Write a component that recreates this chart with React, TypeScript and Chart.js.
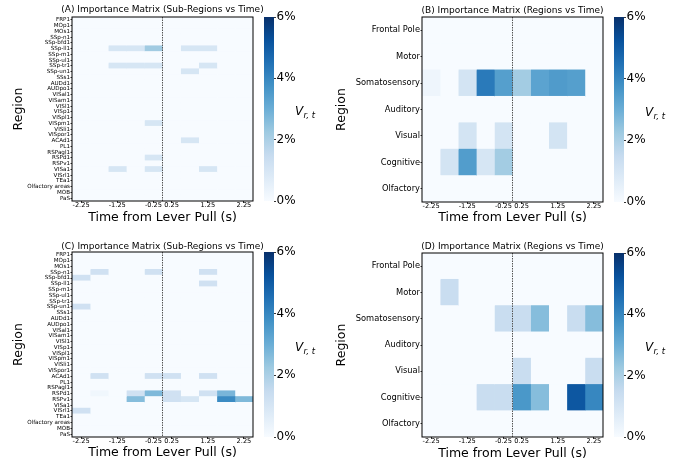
import React, { useEffect, useRef } from "react";
import { Chart, registerables } from "chart.js";

Chart.register(...registerables);

// ---------- data ----------
const timeBinStarts = [-2.5, -2, -1.5, -1, -0.5, 0, 0.5, 1, 1.5, 2];
const binWidth = 0.5;
const timeTicks = [-2.25, -1.25, -0.25, 0.25, 1.25, 2.25];
const colorbarTicks = [0, 2, 4, 6];
const vmax = 6;

const subRegions = [
  "FRP1", "MOp1", "MOs1", "SSp-n1", "SSp-bfd1", "SSp-ll1", "SSp-m1", "SSp-ul1",
  "SSp-tr1", "SSp-un1", "SSs1", "AUDd1", "AUDpo1", "VISal1", "VISam1", "VISl1",
  "VISp1", "VISpl1", "VISpm1", "VISli1", "VISpor1", "ACAd1", "PL1", "RSPagl1",
  "RSPd1", "RSPv1", "VISa1", "VISrl1", "TEa1", "Olfactory areas", "MOB", "PaS",
];

const regions = ["Frontal Pole", "Motor", "Somatosensory", "Auditory", "Visual", "Cognitive", "Olfactory"];

// values in % (rows = regions, columns = time bins)
const importanceA = [
  [0, 0, 0, 0, 0, 0, 0, 0, 0, 0], // FRP1
  [0, 0, 0, 0, 0, 0, 0, 0, 0, 0], // MOp1
  [0, 0, 0, 0, 0, 0, 0, 0, 0, 0], // MOs1
  [0, 0, 0, 0, 0, 0, 0, 0, 0, 0], // SSp-n1
  [0, 0, 0, 0, 0, 0, 0, 0, 0, 0], // SSp-bfd1
  [0, 0, 1.0, 1.0, 2.2, 0, 1.0, 1.0, 0, 0], // SSp-ll1
  [0, 0, 0, 0, 0, 0, 0, 0, 0, 0], // SSp-m1
  [0, 0, 0, 0, 0, 0, 0, 0, 0, 0], // SSp-ul1
  [0, 0, 1.0, 1.0, 1.0, 0, 0, 1.0, 0, 0], // SSp-tr1
  [0, 0, 0, 0, 0, 0, 1.0, 0, 0, 0], // SSp-un1
  [0, 0, 0, 0, 0, 0, 0, 0, 0, 0], // SSs1
  [0, 0, 0, 0, 0, 0, 0, 0, 0, 0], // AUDd1
  [0, 0, 0, 0, 0, 0, 0, 0, 0, 0], // AUDpo1
  [0, 0, 0, 0, 0, 0, 0, 0, 0, 0], // VISal1
  [0, 0, 0, 0, 0, 0, 0, 0, 0, 0], // VISam1
  [0, 0, 0, 0, 0, 0, 0, 0, 0, 0], // VISl1
  [0, 0, 0, 0, 0, 0, 0, 0, 0, 0], // VISp1
  [0, 0, 0, 0, 0, 0, 0, 0, 0, 0], // VISpl1
  [0, 0, 0, 0, 1.0, 0, 0, 0, 0, 0], // VISpm1
  [0, 0, 0, 0, 0, 0, 0, 0, 0, 0], // VISli1
  [0, 0, 0, 0, 0, 0, 0, 0, 0, 0], // VISpor1
  [0, 0, 0, 0, 0, 0, 1.0, 0, 0, 0], // ACAd1
  [0, 0, 0, 0, 0, 0, 0, 0, 0, 0], // PL1
  [0, 0, 0, 0, 0, 0, 0, 0, 0, 0], // RSPagl1
  [0, 0, 0, 0, 1.0, 0, 0, 0, 0, 0], // RSPd1
  [0, 0, 0, 0, 0, 0, 0, 0, 0, 0], // RSPv1
  [0, 0, 1.0, 0, 1.0, 0, 0, 1.0, 0, 0], // VISa1
  [0, 0, 0, 0, 0, 0, 0, 0, 0, 0], // VISrl1
  [0, 0, 0, 0, 0, 0, 0, 0, 0, 0], // TEa1
  [0, 0, 0, 0, 0, 0, 0, 0, 0, 0], // Olfactory areas
  [0, 0, 0, 0, 0, 0, 0, 0, 0, 0], // MOB
  [0, 0, 0, 0, 0, 0, 0, 0, 0, 0], // PaS
];

const importanceB = [
  [0, 0, 0, 0, 0, 0, 0, 0, 0, 0], // Frontal Pole
  [0, 0, 0, 0, 0, 0, 0, 0, 0, 0], // Motor
  [0.27, 0, 1.1, 4.3, 3.4, 2.15, 3.3, 3.5, 3.4, 0], // Somatosensory
  [0, 0, 0, 0, 0, 0, 0, 0, 0, 0], // Auditory
  [0, 0, 1.1, 0, 1.1, 0, 0, 1.1, 0, 0], // Visual
  [0, 1.1, 3.45, 1.0, 2.15, 0, 0, 0, 0, 0], // Cognitive
  [0, 0, 0, 0, 0, 0, 0, 0, 0, 0], // Olfactory
];

const importanceC = [
  [0, 0, 0, 0, 0, 0, 0, 0, 0, 0], // FRP1
  [0, 0, 0, 0, 0, 0, 0, 0, 0, 0], // MOp1
  [0, 0, 0, 0, 0, 0, 0, 0, 0, 0], // MOs1
  [0, 1.2, 0, 0, 1.2, 0, 0, 1.2, 0, 0], // SSp-n1
  [1.2, 0, 0, 0, 0, 0, 0, 0, 0, 0], // SSp-bfd1
  [0, 0, 0, 0, 0, 0, 0, 1.2, 0, 0], // SSp-ll1
  [0, 0, 0, 0, 0, 0, 0, 0, 0, 0], // SSp-m1
  [0, 0, 0, 0, 0, 0, 0, 0, 0, 0], // SSp-ul1
  [0, 0, 0, 0, 0, 0, 0, 0, 0, 0], // SSp-tr1
  [1.2, 0, 0, 0, 0, 0, 0, 0, 0, 0], // SSp-un1
  [0, 0, 0, 0, 0, 0, 0, 0, 0, 0], // SSs1
  [0, 0, 0, 0, 0, 0, 0, 0, 0, 0], // AUDd1
  [0, 0, 0, 0, 0, 0, 0, 0, 0, 0], // AUDpo1
  [0, 0, 0, 0, 0, 0, 0, 0, 0, 0], // VISal1
  [0, 0, 0, 0, 0, 0, 0, 0, 0, 0], // VISam1
  [0, 0, 0, 0, 0, 0, 0, 0, 0, 0], // VISl1
  [0, 0, 0, 0, 0, 0, 0, 0, 0, 0], // VISp1
  [0, 0, 0, 0, 0, 0, 0, 0, 0, 0], // VISpl1
  [0, 0, 0, 0, 0, 0, 0, 0, 0, 0], // VISpm1
  [0, 0, 0, 0, 0, 0, 0, 0, 0, 0], // VISli1
  [0, 0, 0, 0, 0, 0, 0, 0, 0, 0], // VISpor1
  [0, 1.2, 0, 0, 1.2, 1.2, 0, 1.2, 0, 0], // ACAd1
  [0, 0, 0, 0, 0, 0, 0, 0, 0, 0], // PL1
  [0, 0, 0, 0, 0, 0, 0, 0, 0, 0], // RSPagl1
  [0, 0.2, 0, 1.2, 2.7, 1.2, 0, 1.2, 2.8, 0], // RSPd1
  [0, 0, 0, 2.6, 0, 1.2, 1.0, 0, 3.9, 2.7], // RSPv1
  [0, 0, 0, 0, 0, 0, 0, 0, 0, 0], // VISa1
  [1.2, 0, 0, 0, 0, 0, 0, 0, 0, 0], // VISrl1
  [0, 0, 0, 0, 0, 0, 0, 0, 0, 0], // TEa1
  [0, 0, 0, 0, 0, 0, 0, 0, 0, 0], // Olfactory areas
  [0, 0, 0, 0, 0, 0, 0, 0, 0, 0], // MOB
  [0, 0, 0, 0, 0, 0, 0, 0, 0, 0], // PaS
];

const importanceD = [
  [0, 0, 0, 0, 0, 0, 0, 0, 0, 0], // Frontal Pole
  [0, 1.4, 0, 0, 0, 0, 0, 0, 0, 0], // Motor
  [0, 0, 0, 0, 1.4, 1.4, 2.6, 0, 1.4, 2.6], // Somatosensory
  [0, 0, 0, 0, 0, 0, 0, 0, 0, 0], // Auditory
  [0, 0, 0, 0, 0, 1.4, 0, 0, 0, 1.4], // Visual
  [0, 0, 0, 1.4, 1.4, 3.6, 2.6, 0, 5.1, 4.0], // Cognitive
  [0, 0, 0, 0, 0, 0, 0, 0, 0, 0], // Olfactory
];

// ---------- colormap (matplotlib "Blues") ----------
const bluesStops = ["#f7fbff", "#deebf7", "#c6dbef", "#9ecae1", "#6baed6", "#4292c6", "#2171b5", "#08519c", "#08306b"];

function hexToRgb(h: string) {
  return [parseInt(h.slice(1, 3), 16), parseInt(h.slice(3, 5), 16), parseInt(h.slice(5, 7), 16)];
}
function blues(t: number) {
  const x = Math.max(0, Math.min(1, t)) * (bluesStops.length - 1);
  const i = Math.min(Math.floor(x), bluesStops.length - 2);
  const f = x - i;
  const a = hexToRgb(bluesStops[i]);
  const b = hexToRgb(bluesStops[i + 1]);
  const c = a.map((v, k) => Math.round(v + (b[k] - v) * f));
  return `rgb(${c[0]},${c[1]},${c[2]})`;
}

const FONT = "DejaVu Sans";

// ---------- plugins ----------
const framePlugin = {
  id: "frame",
  afterDatasetsDraw(chart: any, _args: any, opts: any) {
    const { ctx, chartArea, scales } = chart;
    const x0 = scales.x.getPixelForValue(0);
    ctx.save();
    ctx.strokeStyle = "#555";
    ctx.lineWidth = 1;
    ctx.setLineDash([1.5, 1]);
    ctx.beginPath();
    ctx.moveTo(x0, chartArea.top);
    ctx.lineTo(x0, chartArea.bottom);
    ctx.stroke();
    ctx.setLineDash([]);
    ctx.strokeStyle = "#000";
    ctx.lineWidth = 1;
    ctx.strokeRect(chartArea.left, chartArea.top, chartArea.right - chartArea.left, chartArea.bottom - chartArea.top);
    // panel title, centred over the plot area
    ctx.fillStyle = "#000";
    ctx.font = `9px "${FONT}"`;
    ctx.textAlign = "center";
    ctx.textBaseline = "middle";
    ctx.fillText(opts.text, (chartArea.left + chartArea.right) / 2, opts.y);
    ctx.restore();
  },
};

const cbLabelPlugin = {
  id: "cbLabel",
  afterDraw(chart: any) {
    const { ctx, chartArea } = chart;
    const cy = (chartArea.top + chartArea.bottom) / 2;
    const x = chartArea.right + 21;
    ctx.save();
    ctx.fillStyle = "#000";
    ctx.textBaseline = "alphabetic";
    ctx.textAlign = "left";
    ctx.font = `italic 12px "${FONT}"`;
    ctx.fillText("V", x, cy + 6);
    const w = ctx.measureText("V").width;
    ctx.font = `italic 8.5px "${FONT}"`;
    ctx.fillText("r, t", x + w + 0.3, cy + 9);
    ctx.restore();
  },
};

type PanelCfg = {
  key: string;
  title: string;
  labels: string[];
  matrix: number[][];
  left: number;
  top: number;
  width: number;
  height: number;
  yAxisW: number;
  padRight: number;
  areaTop: number;
  areaBottom: number;
  titleCenter: number;
  yLabelFont: number;
  regionOffset: number;
  xTitleOffset: number;
  cbLeft: number;
  cbWidth: number;
};

const panels: PanelCfg[] = [
  {
    key: "A", title: "(A) Importance Matrix (Sub-Regions vs Time)", labels: subRegions, matrix: importanceA,
    left: 0, top: 0, width: 273, height: 232, yAxisW: 72, padRight: 20, areaTop: 17, areaBottom: 201,
    titleCenter: 10, yLabelFont: 5.6, regionOffset: 19, xTitleOffset: 14, cbLeft: 256, cbWidth: 74,
  },
  {
    key: "B", title: "(B) Importance Matrix (Regions vs Time)", labels: regions, matrix: importanceB,
    left: 330, top: 0, width: 293, height: 232, yAxisW: 92, padRight: 20, areaTop: 17, areaBottom: 202,
    titleCenter: 10.5, yLabelFont: 8.3, regionOffset: 11.7, xTitleOffset: 14.5, cbLeft: 606, cbWidth: 72,
  },
  {
    key: "C", title: "(C) Importance Matrix (Sub-Regions vs Time)", labels: subRegions, matrix: importanceC,
    left: 0, top: 232, width: 273, height: 232, yAxisW: 72, padRight: 20, areaTop: 20, areaBottom: 205,
    titleCenter: 14.5, yLabelFont: 5.6, regionOffset: 19, xTitleOffset: 11, cbLeft: 256, cbWidth: 74,
  },
  {
    key: "D", title: "(D) Importance Matrix (Regions vs Time)", labels: regions, matrix: importanceD,
    left: 330, top: 232, width: 293, height: 232, yAxisW: 92, padRight: 20, areaTop: 21, areaBottom: 205,
    titleCenter: 14.5, yLabelFont: 8.3, regionOffset: 11.7, xTitleOffset: 10, cbLeft: 606, cbWidth: 72,
  },
];

function makeHeatmap(canvas: HTMLCanvasElement, p: PanelCfg) {
  const axTitleSize = 12.5;
  const axTitleLH = axTitleSize * 1.2;
  const datasets = timeBinStarts.map((t0, b) => ({
    label: `bin ${b}`,
    data: p.labels.map(() => [t0, t0 + binWidth]),
    backgroundColor: p.labels.map((_, r) => blues(p.matrix[r][b] / vmax)),
    borderWidth: 0,
    grouped: false,
    barPercentage: 1,
    categoryPercentage: 1,
  }));
  return new Chart(canvas, {
    type: "bar",
    data: { labels: p.labels, datasets: datasets as any },
    options: {
      indexAxis: "y",
      animation: false,
      responsive: false,
      devicePixelRatio: 1,
      layout: { padding: { left: 0, right: p.padRight, top: p.areaTop, bottom: 0 } },
      plugins: {
        legend: { display: false },
        tooltip: { enabled: false },
        title: { display: false },
        frame: { text: p.title, y: p.titleCenter },
      },
      scales: {
        x: {
          type: "linear",
          min: -2.5,
          max: 2.5,
          afterBuildTicks: (s: any) => {
            s.ticks = timeTicks.map((v) => ({ value: v }));
          },
          afterFit: (s: any) => {
            s.height = p.height - p.areaBottom;
          },
          ticks: {
            autoSkip: false,
            maxRotation: 0,
            minRotation: 0,
            padding: -1.5,
            color: "#000",
            font: { family: FONT, size: 6.6 },
            callback: (v: any) => String(v),
          },
          grid: { display: true, drawOnChartArea: false, tickLength: 2, color: "#000", lineWidth: 0.8 },
          border: { display: false },
          title: {
            display: true,
            text: "Time from Lever Pull (s)",
            color: "#000",
            font: { family: FONT, size: axTitleSize, lineHeight: 1.2 },
            padding: { top: 0, bottom: p.xTitleOffset - axTitleLH / 2 },
          },
        },
        y: {
          type: "category",
          offset: true,
          afterFit: (s: any) => {
            s.width = p.yAxisW;
          },
          ticks: {
            autoSkip: false,
            padding: 0.5,
            color: "#000",
            font: { family: FONT, size: p.yLabelFont },
          },
          grid: { display: true, offset: false, drawOnChartArea: false, tickLength: 1.5, color: "#000", lineWidth: 0.8 },
          border: { display: false },
          title: {
            display: true,
            text: "Region",
            color: "#000",
            font: { family: FONT, size: axTitleSize, lineHeight: 1.2 },
            padding: { top: p.regionOffset - axTitleLH / 2, bottom: 0 },
          },
        },
      },
    } as any,
    plugins: [framePlugin],
  });
}

function makeColorbar(canvas: HTMLCanvasElement, p: PanelCfg) {
  return new Chart(canvas, {
    type: "bar",
    data: {
      labels: ["scale"],
      datasets: [
        {
          data: [[0, vmax]],
          borderWidth: 0,
          barPercentage: 1,
          categoryPercentage: 1,
          backgroundColor: (ctx: any) => {
            const chart = ctx.chart;
            const ys = chart.scales?.y;
            if (!chart.chartArea || !ys) return blues(0.5);
            const g = chart.ctx.createLinearGradient(0, ys.getPixelForValue(0), 0, ys.getPixelForValue(vmax));
            bluesStops.forEach((c, i) => g.addColorStop(i / (bluesStops.length - 1), c));
            return g;
          },
        },
      ] as any,
    },
    options: {
      animation: false,
      responsive: false,
      devicePixelRatio: 1,
      layout: { padding: { left: 8, right: 0, top: p.areaTop, bottom: p.height - p.areaBottom } },
      plugins: { legend: { display: false }, tooltip: { enabled: false }, title: { display: false } },
      scales: {
        x: { display: false },
        y: {
          position: "right",
          min: 0,
          max: vmax,
          afterBuildTicks: (s: any) => {
            s.ticks = colorbarTicks.map((v) => ({ value: v }));
          },
          afterFit: (s: any) => {
            s.width = p.cbWidth - 18;
          },
          ticks: {
            padding: 0.5,
            color: "#000",
            font: { family: FONT, size: 12 },
            callback: (v: any) => `${v}%`,
          },
          grid: { display: true, drawOnChartArea: false, tickLength: 2, color: "#000", lineWidth: 0.8 },
          border: { display: false },
        },
      },
    } as any,
    plugins: [cbLabelPlugin],
  });
}

function Panel({ p }: { p: PanelCfg }) {
  const heatRef = useRef<HTMLCanvasElement>(null);
  const cbRef = useRef<HTMLCanvasElement>(null);
  useEffect(() => {
    const h = makeHeatmap(heatRef.current!, p);
    const c = makeColorbar(cbRef.current!, p);
    return () => {
      h.destroy();
      c.destroy();
    };
  }, [p]);
  return (
    <>
      <canvas
        ref={heatRef}
        width={p.width}
        height={p.height}
        style={{ position: "absolute", left: p.left, top: p.top, width: p.width, height: p.height }}
      />
      <canvas
        ref={cbRef}
        width={p.cbWidth}
        height={p.height}
        style={{ position: "absolute", left: p.cbLeft, top: p.top, width: p.cbWidth, height: p.height }}
      />
    </>
  );
}

export default function App() {
  return (
    <div style={{ position: "fixed", left: 0, top: 0, width: 678, height: 464, background: "#fff", overflow: "hidden" }}>
      {panels.map((p) => (
        <Panel key={p.key} p={p} />
      ))}
    </div>
  );
}
